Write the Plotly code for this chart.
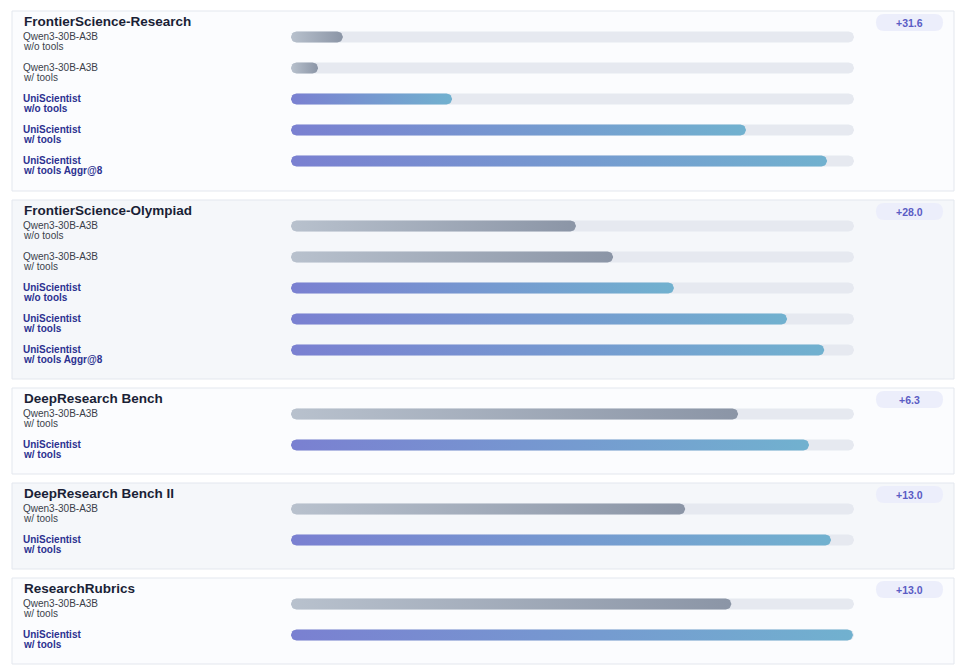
import numpy as np
import plotly.graph_objects as go

# 数据
benchmarks = ["FrontierScience-Research", "FrontierScience-Olympiad", "DeepResearch Bench",
              "DeepResearch Bench II", "ResearchRubrics"]
deltas = ["+31.6", "+28.0", "+6.3", "+13.0", "+13.0"]
row_labels = [
    ["Qwen3-30B-A3B<br>w/o tools", "Qwen3-30B-A3B<br>w/ tools", "UniScientist<br>w/o tools",
     "UniScientist<br>w/ tools", "UniScientist<br>w/ tools Aggr@8"],
    ["Qwen3-30B-A3B<br>w/o tools", "Qwen3-30B-A3B<br>w/ tools", "UniScientist<br>w/o tools",
     "UniScientist<br>w/ tools", "UniScientist<br>w/ tools Aggr@8"],
    ["Qwen3-30B-A3B<br>w/ tools", "UniScientist<br>w/ tools"],
    ["Qwen3-30B-A3B<br>w/ tools", "UniScientist<br>w/ tools"],
    ["Qwen3-30B-A3B<br>w/ tools", "UniScientist<br>w/ tools"],
]
values = [
    [9.2, 4.8, 28.6, 80.8, 95.2],
    [50.6, 57.2, 68.0, 88.1, 94.7],
    [79.4, 92.0],
    [70.0, 95.9],
    [78.2, 99.8],
]

W, H = 965, 668
OFF = 8  # 页面 body 默认边距
X0, X1 = 291, 854
panel_tops = [11, 200, 388, 483, 578]
panel_bottoms = [191, 379, 474, 569, 664]
BAR_H = 11
R_X = (BAR_H / 2) / (X1 - X0) * 100  # 圆角半径（x 单位）

def pill(x_end, yc):
    r = BAR_H / 2
    rx = min(R_X, x_end / 2)
    a_r = np.linspace(-np.pi / 2, np.pi / 2, 16)
    a_l = np.linspace(np.pi / 2, 3 * np.pi / 2, 16)
    xs = np.concatenate([(x_end - rx) + rx * np.cos(a_r), rx + rx * np.cos(a_l)])
    ys = np.concatenate([yc + r * np.sin(a_r), yc + r * np.sin(a_l)])
    return np.append(xs, xs[0]), np.append(ys, ys[0])

fig = go.Figure()
shapes, annots = [], []
px = lambda v: (v - OFF) / W

for i, name in enumerate(benchmarks):
    top, bot = panel_tops[i], panel_bottoms[i]
    shapes.append(dict(type="rect", xref="paper", yref="y", x0=px(12), x1=px(954), y0=top, y1=bot,
                       fillcolor="#fbfcfe" if i % 2 == 0 else "#f5f7fa",
                       line=dict(color="#e3e7ee", width=1), layer="below"))
    annots.append(dict(xref="paper", yref="y", x=px(22), y=top + 10, text=f"<b>{name}</b>",
                       showarrow=False, xanchor="left", yanchor="middle",
                       font=dict(size=13.5, color="#1a1f36")))
    # badge
    shapes.append(dict(type="path", xref="paper", yref="y",
                       path=f"M {px(884)},{top+3} L {px(935)},{top+3} Q {px(943)},{top+3} {px(943)},{top+11.5} "
                            f"Q {px(943)},{top+20} {px(935)},{top+20} L {px(884)},{top+20} "
                            f"Q {px(876)},{top+20} {px(876)},{top+11.5} Q {px(876)},{top+3} {px(884)},{top+3} Z",
                       fillcolor="#eceefb", line=dict(width=0), layer="below"))
    annots.append(dict(xref="paper", yref="y", x=px(909.5), y=top + 11.5, text=f"<b>{deltas[i]}</b>",
                       showarrow=False, xanchor="center", yanchor="middle",
                       font=dict(size=10.5, color="#5a5cc4")))
    for j, (lab, v) in enumerate(zip(row_labels[i], values[i])):
        yc = top + 26 + 31 * j
        uni = lab.startswith("UniScientist")
        xs, ys = pill(100, yc)
        fig.add_trace(go.Scatter(x=xs, y=ys, fill="toself", fillcolor="#e6e9f0", mode="lines",
                                 line=dict(width=0), hoverinfo="skip", showlegend=False))
        xs, ys = pill(v, yc)
        cs = [[0, "#7a80d1"], [1, "#71b1cf"]] if uni else [[0, "#b8c1cd"], [1, "#8b95a6"]]
        fig.add_trace(go.Scatter(x=xs, y=ys, fill="toself", mode="lines", line=dict(width=0),
                                 fillgradient=dict(type="horizontal", colorscale=cs),
                                 hovertemplate=f"{lab.replace('<br>', ' ')}: {v}<extra></extra>",
                                 showlegend=False))
        for k, line in enumerate(lab.split("<br>")):
            annots.append(dict(xref="paper", yref="y", x=px(22), y=yc - 1 + 10 * k,
                               text=f"<b>{line}</b>" if uni else line,
                               showarrow=False, xanchor="left", yanchor="middle",
                               borderpad=0,
                               font=dict(size=10, color="#2b3190" if uni else "#3a3f4a")))

fig.update_layout(
    width=W, height=H, margin=dict(l=0, r=0, t=0, b=0),
    paper_bgcolor="white", plot_bgcolor="rgba(0,0,0,0)",
    font=dict(family="Liberation Sans, Arial, sans-serif"),
    xaxis=dict(domain=[(X0 - OFF) / W, (X1 - OFF) / W], range=[0, 100], visible=False, fixedrange=True),
    yaxis=dict(range=[H + OFF, OFF], visible=False, fixedrange=True),
    shapes=shapes, annotations=annots,
)
fig.write_html("out.html")
